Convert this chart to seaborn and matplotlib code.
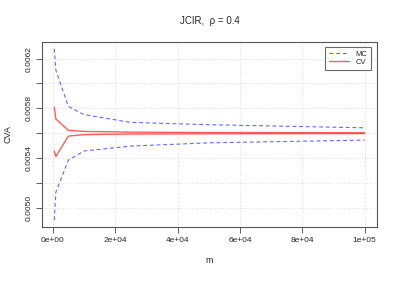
import numpy as np
import pandas as pd
import matplotlib
matplotlib.use('Agg')
import matplotlib.pyplot as plt
import seaborn as sns

# Data
m = [500, 1000, 5000, 10000, 25000, 50000, 100000]
mc_upper = [0.006280, 0.006107, 0.005815, 0.005749, 0.005687, 0.005668, 0.005643]
mc_lower = [0.004899, 0.005125, 0.005382, 0.005456, 0.005496, 0.005522, 0.005544]
cv_upper = [0.005810, 0.005714, 0.005623, 0.005614, 0.005608, 0.005605, 0.005603]
cv_lower = [0.005456, 0.005412, 0.005576, 0.005588, 0.005593, 0.005595, 0.005597]

xticks = [0, 20000, 40000, 60000, 80000, 100000]
xticklabels = ['0e+00', '2e+04', '4e+04', '6e+04', '8e+04', '1e+05']
yticks = [0.0050, 0.0052, 0.0054, 0.0056, 0.0058, 0.0060, 0.0062]
yticklabels = ['0.0050', '', '0.0054', '', '0.0058', '', '0.0062']

sns.set_style('white')
plt.rcParams['font.family'] = ['Liberation Sans', 'DejaVu Sans']

fig = plt.figure(figsize=(3.99, 2.81), dpi=100)
ax = fig.add_axes([0.105, 0.192, 0.84, 0.659])

blue = '#4d4dff'
red = '#ff3333'
sns.lineplot(x=m, y=mc_upper, ax=ax, color=blue, lw=0.8, alpha=0.85, label='MC')
ax.lines[-1].set_dashes((3.5, 2.5))
sns.lineplot(x=m, y=mc_lower, ax=ax, color=blue, lw=0.8, alpha=0.85)
ax.lines[-1].set_dashes((3.5, 2.5))
sns.lineplot(x=m, y=cv_upper, ax=ax, color=red, lw=1.0, alpha=0.8, label='CV')
sns.lineplot(x=m, y=cv_lower, ax=ax, color=red, lw=1.0, alpha=0.8)

xr = max(m) - min(m)
ax.set_xlim(min(m) - 0.04 * xr, max(m) + 0.04 * xr)
ymin, ymax = min(mc_lower), max(mc_upper)
yr = ymax - ymin
ax.set_ylim(ymin - 0.04 * yr, ymax + 0.04 * yr)

ax.set_xticks(xticks)
ax.set_xticklabels(xticklabels, fontsize=6)
ax.set_yticks(yticks)
ax.set_yticklabels(yticklabels, fontsize=6, rotation=90, va='center')
ax.tick_params(axis='both', direction='out', length=4, width=0.6,
               color='#444444', pad=3, bottom=True, left=True)
ax.grid(True, linestyle=':', color='#dddddd', lw=0.7)

for s in ax.spines.values():
    s.set_color('#555555')
    s.set_linewidth(0.8)

ax.set_xlabel('m', fontsize=6.5, labelpad=9)
ax.set_ylabel('CVA', fontsize=6.5, labelpad=9)
ax.set_title('JCIR,  \u03c1 = 0.4', fontsize=7, pad=13)

leg = ax.legend(loc='upper right', fontsize=5.5, frameon=True, fancybox=False,
                handlelength=2.6, borderpad=0.5, labelspacing=0.1,
                bbox_to_anchor=(0.993, 0.995))
leg.get_frame().set_edgecolor('#444444')
leg.get_frame().set_linewidth(0.8)

fig.savefig('out.png', dpi=100)
